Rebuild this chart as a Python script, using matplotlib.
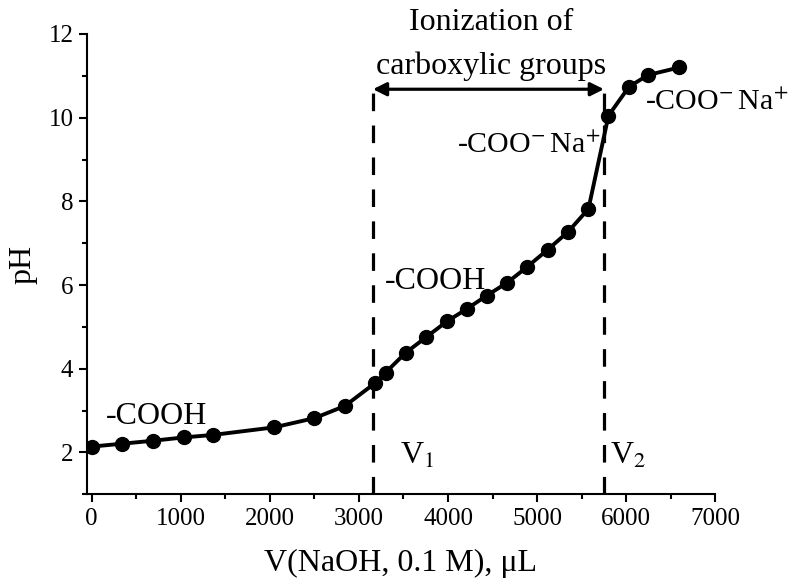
import matplotlib
matplotlib.use("Agg")
import matplotlib.pyplot as plt
from matplotlib.ticker import MultipleLocator

# Data
v_naoh = [0, 342, 687, 1034, 1365, 2047, 2500, 2841, 3182, 3299, 3523, 3757, 3986,
          4210, 4435, 4666, 4891, 5121, 5346, 5576, 5801, 6032, 6246, 6594]
ph = [2.14, 2.21, 2.28, 2.36, 2.42, 2.60, 2.82, 3.11, 3.66, 3.91, 4.38, 4.76, 5.13,
      5.43, 5.75, 6.06, 6.44, 6.85, 7.27, 7.82, 10.05, 10.74, 11.02, 11.20]
v1 = 3157
v2 = 5750
x_ticks = [0, 1000, 2000, 3000, 4000, 5000, 6000, 7000]
y_ticks = [2, 4, 6, 8, 10, 12]

plt.rcParams['font.family'] = ['Liberation Serif', 'DejaVu Serif']
plt.rcParams['mathtext.fontset'] = 'stix'

fig = plt.figure(figsize=(7.91, 5.83), dpi=100)
ax = fig.add_axes([0.1096, 0.1521, 0.7947, 0.7896])

ax.plot(v_naoh, ph, color='black', lw=2.8, marker='o', markersize=10, zorder=3)

# Vertical dashed lines
arrow_y = 10.68
for xv in (v1, v2):
    ax.plot([xv, xv], [1, arrow_y], color='black', lw=2.3, linestyle=(0, (5.5, 4.5)), zorder=2)

ax.annotate('', xy=(v1, arrow_y), xytext=(v2, arrow_y),
            arrowprops=dict(arrowstyle='<|-|>', color='black', lw=2.3,
                            mutation_scale=20, shrinkA=0, shrinkB=0))

fs = 23
fs2 = 21.5
coo_na = r'-COO$^{-}\!$ Na$^{+}$'
ax.text(4480, 11.22, 'carboxylic groups', ha='center', va='center', fontsize=fs)
ax.text(4480, 12.28, 'Ionization of', ha='center', va='center', fontsize=fs,
        clip_on=False)
ax.text(162, 2.85, '-COOH', ha='left', va='center', fontsize=fs)
ax.text(3289, 6.08, '-COOH', ha='left', va='center', fontsize=fs)
ax.text(4100, 9.32, coo_na, ha='left', va='center', fontsize=fs2)
ax.text(6215, 10.36, coo_na, ha='left', va='center', fontsize=fs2, clip_on=False)
ax.text(3462, 1.9, r'V$_{1}$', ha='left', va='center', fontsize=fs)
ax.text(5819, 1.9, r'V$_{2}$', ha='left', va='center', fontsize=fs)

ax.set_xlim(-56, 7000)
ax.set_ylim(1, 12)
ax.set_xticks(x_ticks)
ax.set_yticks(y_ticks)
ax.xaxis.set_minor_locator(MultipleLocator(500))
ax.yaxis.set_minor_locator(MultipleLocator(1))
ax.tick_params(which='major', direction='out', length=6, width=1.5, labelsize=18)
ax.tick_params(which='minor', direction='out', length=3.5, width=1.5)
for s in ('top', 'right'):
    ax.spines[s].set_visible(False)
for s in ('left', 'bottom'):
    ax.spines[s].set_linewidth(1.5)

ax.set_xlabel('V(NaOH, 0.1 M), μL', fontsize=23, labelpad=14)
ax.set_ylabel('pH', fontsize=23, labelpad=8)

fig.savefig('out.png', dpi=100)
